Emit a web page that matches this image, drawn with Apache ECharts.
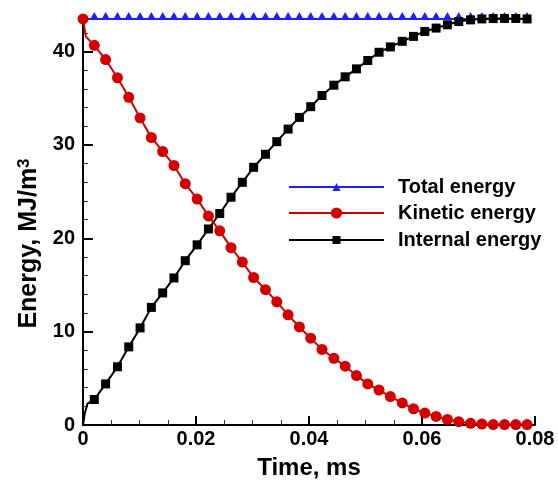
<!DOCTYPE html>
<html>
<head>
<meta charset="utf-8">
<script src="https://cdn.jsdelivr.net/npm/echarts@6/dist/echarts.min.js"></script>
<style>
  html, body { margin: 0; padding: 0; background: #fff; }
  #chart { width: 558px; height: 485px; }
</style>
</head>
<body>
<div id="chart"></div>
<script>
// Sample times (ms) where the markers sit
const time = [0, 0.0020, 0.0040, 0.0061, 0.0081, 0.0101, 0.0121, 0.0141, 0.0161, 0.0181,
  0.0202, 0.0222, 0.0242, 0.0262, 0.0282, 0.0302, 0.0323, 0.0343, 0.0363, 0.0383,
  0.0403, 0.0423, 0.0444, 0.0464, 0.0484, 0.0504, 0.0524, 0.0544, 0.0565, 0.0585,
  0.0605, 0.0625, 0.0645, 0.0665, 0.0686, 0.0706, 0.0726, 0.0746, 0.0766, 0.0786];

// Energies, MJ/m^3
const totalEnergy = [43.5, 43.5, 43.5, 43.5, 43.5, 43.5, 43.5, 43.5, 43.5, 43.5,
  43.5, 43.5, 43.5, 43.5, 43.5, 43.5, 43.5, 43.5, 43.5, 43.5,
  43.5, 43.5, 43.5, 43.5, 43.5, 43.5, 43.5, 43.5, 43.5, 43.5,
  43.5, 43.5, 43.5, 43.5, 43.5, 43.5, 43.5, 43.5, 43.5, 43.5];
const kineticEnergy = [43.5, 40.67, 39.15, 37.2, 35.1, 32.9, 30.8, 29.3, 27.8, 25.85,
  24.2, 22.4, 20.8, 19.0, 17.45, 15.8, 14.5, 13.2, 11.8, 10.5,
  9.3, 8.1, 7.15, 6.3, 5.3, 4.4, 3.75, 3.05, 2.37, 1.73,
  1.28, 0.92, 0.6, 0.35, 0.18, 0.1, 0.05, 0.05, 0.05, 0.05];
const internalEnergy = [0, 2.73, 4.4, 6.24, 8.37, 10.4, 12.6, 14.15, 15.75, 17.6,
  19.3, 21.0, 22.66, 24.4, 26.0, 27.6, 29.0, 30.35, 31.7, 32.95,
  34.1, 35.3, 36.4, 37.3, 38.15, 39.05, 39.93, 40.5, 41.1, 41.63,
  42.16, 42.52, 42.87, 43.22, 43.4, 43.5, 43.54, 43.55, 43.55, 43.5];

// Extra curve points in the fast initial transient (no markers)
const kineticStart = [[0.0005, 41.6]];
const internalStart = [[0.0003, 1.2], [0.0008, 2.3]];

// Axis ticks
const xTicks = [0, 0.02, 0.04, 0.06, 0.08];
const yTicks = [0, 10, 20, 30, 40];
const yMinorTicks = [2, 4, 6, 8, 12, 14, 16, 18, 22, 24, 26, 28, 32, 34, 36, 38, 42];

const FONT = 'Liberation Sans, Arial, Helvetica, sans-serif';

function buildSeriesData(values, extra, hideFirstMarker) {
  const pts = time.map((t, i) => {
    const item = { value: [t, values[i]] };
    if (hideFirstMarker && i === 0) item.symbol = 'none';
    return item;
  });
  extra.forEach(p => pts.push({ value: p, symbol: 'none' }));
  pts.sort((a, b) => a.value[0] - b.value[0]);
  return pts;
}

const chart = echarts.init(document.getElementById('chart'), null, { renderer: 'canvas' });

const legendText = { fontFamily: FONT, fontSize: 20, fontWeight: 'bold', color: '#000', padding: [0, 0, 0, 9] };
function legendAt(name, top, h) {
  return {
    orient: 'vertical', left: 283, top: top, itemWidth: 95, itemHeight: h,
    data: [name], textStyle: legendText, selectedMode: false
  };
}

chart.setOption({
  animation: false,
  backgroundColor: '#fff',
  grid: { left: 83, top: 18, width: 452, height: 410, containLabel: false },
  legend: [
    legendAt('Total energy', 172, 10),
    legendAt('Kinetic energy', 198, 14),
    legendAt('Internal energy', 225, 10)
  ],
  xAxis: {
    type: 'value', min: 0, max: 0.08, interval: 0.02,
    name: 'Time, ms', nameLocation: 'middle', nameGap: 31,
    nameTextStyle: { fontFamily: FONT, fontSize: 24, fontWeight: 'bold', color: '#000' },
    axisLine: { show: true, onZero: false, lineStyle: { color: '#000', width: 2 } },
    axisTick: { show: true, inside: true, length: 9, lineStyle: { color: '#000', width: 2 } },
    minorTick: { show: true, splitNumber: 4, length: 5, lineStyle: { color: '#333', width: 1 } },
    axisLabel: {
      margin: 4, fontFamily: FONT, fontSize: 20, fontWeight: 'bold', color: '#000',
      formatter: v => (v === 0 ? '0' : v.toFixed(2))
    },
    splitLine: { show: false }
  },
  yAxis: [
    {
      type: 'value', min: 0, max: 43.6,
      name: '{t|Energy, MJ/m}{s|3}', nameLocation: 'middle', nameGap: 34,
      nameTextStyle: {
        padding: [0, 44, 0, 0],
        rich: {
          t: { fontFamily: FONT, fontSize: 25, fontWeight: 'bold', color: '#000', lineHeight: 28 },
          s: { fontFamily: FONT, fontSize: 17, fontWeight: 'bold', color: '#000', verticalAlign: 'top', lineHeight: 15 }
        }
      },
      axisLine: { show: true, onZero: false, lineStyle: { color: '#000', width: 2 } },
      axisTick: { show: true, inside: true, length: 10, customValues: yTicks, lineStyle: { color: '#000', width: 2 } },
      axisLabel: {
        margin: 8, customValues: yTicks, fontFamily: FONT, fontSize: 20, fontWeight: 'bold', color: '#000'
      },
      splitLine: { show: false }
    },
    {
      type: 'value', min: 0, max: 43.6, position: 'left',
      axisLine: { show: false },
      axisTick: { show: true, inside: true, length: 5, customValues: yMinorTicks, lineStyle: { color: '#333', width: 1 } },
      axisLabel: { show: false },
      splitLine: { show: false }
    }
  ],
  series: [
    {
      name: 'Total energy', type: 'line', clip: false, z: 2,
      data: buildSeriesData(totalEnergy, [], true),
      symbol: 'triangle', symbolSize: [9, 8], symbolOffset: [0, -3],
      lineStyle: { color: '#1e1eff', width: 2 },
      itemStyle: { color: '#1e1eff' }
    },
    {
      name: 'Internal energy', type: 'line', clip: false, z: 3,
      data: buildSeriesData(internalEnergy, internalStart, true),
      symbol: 'rect', symbolSize: 9,
      lineStyle: { color: '#000', width: 2 },
      itemStyle: { color: '#000' }
    },
    {
      name: 'Kinetic energy', type: 'line', clip: false, z: 4,
      data: buildSeriesData(kineticEnergy, kineticStart, false),
      symbol: 'circle', symbolSize: 11,
      lineStyle: { color: '#d40000', width: 2 },
      itemStyle: { color: '#d40000' }
    }
  ]
});
</script>
</body>
</html>
